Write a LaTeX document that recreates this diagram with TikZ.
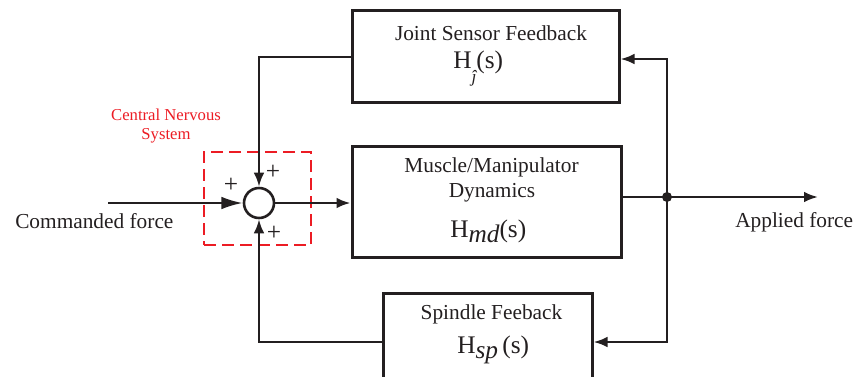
\documentclass[tikz,border=0pt]{standalone}
\usepackage{fontspec}
\setmainfont{Liberation Serif}
\usetikzlibrary{arrows.meta}
\newdimen\px \px=0.75pt
\definecolor{ink}{HTML}{231F20}
\definecolor{cnsred}{HTML}{EC1C24}
\begin{document}
\begin{tikzpicture}[x=0.75pt,y=-0.75pt,
  blk/.style={draw=ink, line width=3\px, minimum width=#1, inner sep=0pt},
  wire/.style={draw=ink, line width=2.4\px},
  arr/.style={wire, -{Latex[length=10.5pt,width=8pt]}},
  bigarr/.style={wire, -{Latex[length=16pt,width=9.5pt]}},
  lbl/.style={inner sep=0pt, font=\fontsize{16pt}{19pt}\selectfont, text=ink},
  pls/.style={inner sep=0pt, font=\fontsize{19pt}{19pt}\selectfont, text=ink},
  tf/.style={inner sep=0pt, font=\fontsize{19pt}{22pt}\selectfont, text=ink},
  cns/.style={inner sep=0pt, font=\fontsize{12.5pt}{14pt}\selectfont, text=cnsred}]
\clip (0,0) rectangle (853,376);
\path[use as bounding box] (0,0) rectangle (853,376);
% blocks
\node[blk=267\px, minimum height=92\px] (joint) at (485.5,56) {};
\node[blk=269\px, minimum height=111\px] (muscle) at (486.5,201.5) {};
\node[blk=209\px, minimum height=92\px] (spindle) at (487.5,339) {};
\node[draw=ink, line width=2.6\px, circle, minimum size=30\px, inner sep=0pt] (sum) at (259,203) {};
% texts
\node[lbl, anchor=base] (jt) at (491,40) {Joint Sensor Feedback};
\node[tf, anchor=base west] (jh) at (453,68) {H\raisebox{-11pt}{\fontsize{13pt}{13pt}\selectfont\itshape ĵ}(s)};
\node[lbl, anchor=base] (mt1) at (491.5,172) {Muscle/Manipulator};
\node[lbl, anchor=base] (mt2) at (492,197) {Dynamics};
\node[tf, anchor=base west] (mh) at (450,237) {H\raisebox{-4pt}{\itshape md}(s)};
\node[lbl, anchor=base] (st) at (491.5,319) {Spindle Feeback};
\node[tf, anchor=base west] (sh) at (457,353) {H\raisebox{-4pt}{\itshape sp}\,(s)};
\node[lbl, anchor=base west] (cmd) at (15,228) {Commanded force};
\node[lbl, anchor=base west] (app) at (735,227) {Applied force};
\node[cns, anchor=base] (cnsl1) at (166,120) {Central Nervous};
\node[cns, anchor=base] (cnsl2) at (166,139) {System};
\node[pls] (p1) at (231,185) {+};
\node[pls] (p2) at (273,172) {+};
\node[pls] (p3) at (274,233) {+};
% CNS dashed box
\node[draw=cnsred, dash pattern=on 12\px off 6\px, line width=2.4\px, minimum width=107\px, minimum height=93\px, inner sep=0pt] (cnsbox) at (257.5,198.5) {};
% coordinates
\coordinate (cin) at (108,203);
\coordinate (dot) at (667,197);
\coordinate (out) at (818,197);
\coordinate (jtop) at (667,59);
\coordinate (sbot) at (667,342);
% connectors
\draw[bigarr] (cin) -- (sum.west);
\draw[arr] (sum.east) -- (sum.east -| muscle.west);
\draw[wire] (dot -| muscle.east) -- (dot);
\draw[arr] (dot) -- (out);
\fill[ink] (dot) circle (5\px);
\draw[arr] (dot) -- (jtop) -- (jtop -| joint.east);
\draw[arr] (dot) -- (sbot) -- (sbot -| spindle.east);
\draw[arr] (joint.west |- 0,57) -| (sum.north);
\draw[arr] (spindle.west |- 0,342) -| (sum.south);
\end{tikzpicture}
\end{document}
